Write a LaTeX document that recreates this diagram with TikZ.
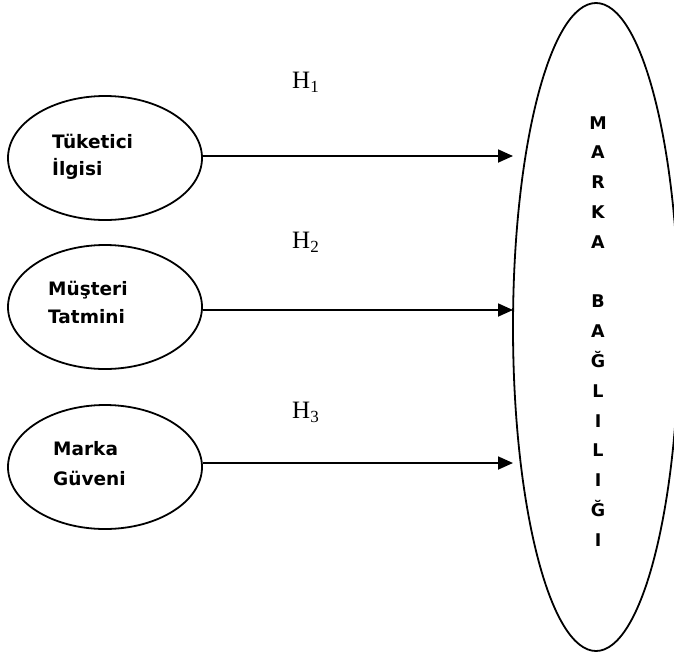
\documentclass[tikz,border=0pt]{standalone}
\usepackage{fontspec}
\newfontfamily\boxfont{DejaVu Sans}[BoldFont={DejaVu Sans Bold}]
\newfontfamily\hfont{Liberation Serif}
\usetikzlibrary{shapes.geometric,arrows.meta}
\tikzset{
  oval/.style={draw, ellipse, line width=1.8pt, inner sep=0pt, minimum width=194pt, minimum height=124pt},
  bigoval/.style={draw, ellipse, line width=1.8pt, inner sep=0pt, minimum width=166pt, minimum height=648pt},
  lbl/.style={font=\boxfont\bfseries\fontsize{18.5}{22}\selectfont, anchor=base west, inner sep=0pt},
  letter/.style={font=\boxfont\bfseries\fontsize{17.5}{20}\selectfont, anchor=base, inner sep=0pt},
  hyp/.style={font=\hfont\fontsize{25}{28}\selectfont, anchor=base west, inner sep=0pt},
  arr/.style={line width=1.8pt, -{Triangle[length=15pt,width=13pt]}},
}
\newcommand{\hsub}[1]{\raisebox{-4.5pt}{\fontsize{17}{17}\selectfont #1}}
\begin{document}
\begin{tikzpicture}[x=1pt,y=-1pt]
\useasboundingbox (0,0) rectangle (674,654);
\clip (0,0) rectangle (674,654);
% left ovals
\node[oval] (e1) at (105,158) {};
\node[oval] (e2) at (105,307) {};
\node[oval] (e3) at (105,467) {};
\node[lbl] (t1a) at (52,148) {Tüketici};
\node[lbl] (t1b) at (52,175) {İlgisi};
\node[lbl] (t2a) at (48,295) {Müşteri};
\node[lbl] (t2b) at (48,323) {Tatmini};
\node[lbl] (t3a) at (53,455) {Marka};
\node[lbl] (t3b) at (53,485) {Güveni};
% big oval
\node[bigoval] (mb) at (596,327) {};
\foreach \ch/\k in {M/0,A/1,R/2,K/3,A/4,B/6,A/7,Ğ/8,L/9,I/10,L/11,I/12,Ğ/13,I/14}{
  \node[letter] (l\k) at (598,{129+29.8*\k}) {\ch};
}
% arrow ends
\coordinate (p1) at (513,156);
\coordinate (p2) at (513,310);
\coordinate (p3) at (513,463);
\draw[arr] (e1.east |- p1) -- (p1);
\draw[arr] (e2.east |- p2) -- (p2);
\draw[arr] (e3.east |- p3) -- (p3);
% hypothesis labels
\node[hyp] (h1) at (292,88) {H\hsub{1}};
\node[hyp] (h2) at (292,248) {H\hsub{2}};
\node[hyp] (h3) at (292,418) {H\hsub{3}};
\end{tikzpicture}
\end{document}
